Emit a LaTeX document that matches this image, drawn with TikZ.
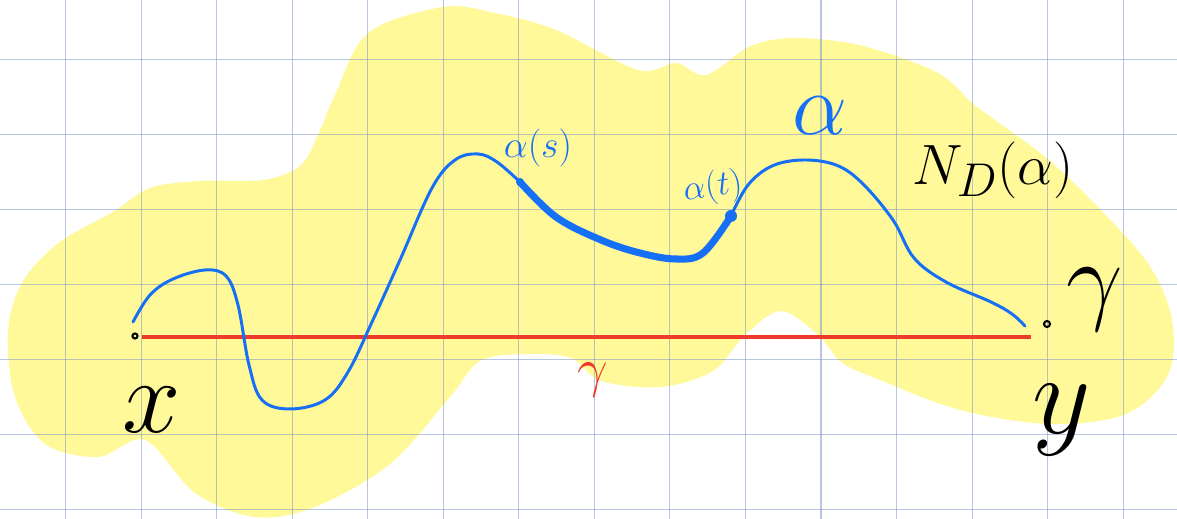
\documentclass[tikz,border=0pt]{standalone}
\usepackage{amsmath,amssymb}
\usepackage{tikz}
\usetikzlibrary{positioning,calc}
\definecolor{hlYellow}{HTML}{FFF99A}
\definecolor{penBlue}{HTML}{1570F5}
\definecolor{penRed}{HTML}{EE3A2A}
\definecolor{gridBlue}{HTML}{7F97C8}
\tikzset{
  gridline/.style={gridBlue, line width=0.6pt, opacity=0.55},
  blob/.style={fill=hlYellow},
  curve/.style={penBlue, line width=1.7pt, line cap=round, line join=round},
  thickcurve/.style={penBlue, line width=4pt, line cap=round, line join=round},
  geo/.style={penRed, line width=1.8pt},
  blue lbl/.style={text=penBlue, inner sep=1pt},
  ink lbl/.style={text=black, inner sep=1pt},
}

\begin{document}
\begin{tikzpicture}[x=0.02cm, y=-0.02cm]
    \useasboundingbox (0,0) rectangle (1177,519);
    % highlighted neighbourhood
    \fill[blob] plot[smooth cycle, tension=0.55] coordinates {
      (113,212) (150,188) (200,181) (263,180) (300,166) (318,135) (335,95)
      (368,33) (443,7) (495,13) (556,30) (638,70) (676,63) (706,75)
      (751,46) (796,38) (863,46) (938,73) (976,106) (1044,156) (1096,205)
      (1149,265) (1172,320) (1168,375) (1126,414) (1051,424) (960,410)
      (875,378) (841,362) (818,335) (781,311) (745,335) (713,371) (661,387)
      (601,381) (571,358) (526,354) (480,361) (450,397) (390,464) (315,507)
      (255,517) (195,493) (145,440) (98,457) (45,444) (15,397) (8,331)
      (23,281) (60,242)};
    % paper grid
    \foreach \i in {0,...,14}
      \draw[gridline] ({65.5+75.55*\i},0) -- ++(0,519);
    \foreach \j in {0,...,6}
      \draw[gridline] (0,{59.5+75*\j}) -- ++(1177,0);

    \coordinate (xpt) at (142,337);
    \coordinate (ypt) at (1031,337);
    \coordinate (a0) at (133,322);
    \coordinate (a1) at (1025,326);
    \coordinate (As) at (520,182);
    \coordinate (At) at (731,216);

    % geodesic
    \draw[geo] (xpt) -- (ypt);
    % the curve alpha
    \draw[curve] plot[smooth, tension=0.6] coordinates {(a0) (150,295) (173,279)
      (205,270) (226,276) (238,305) (249,365) (262,400) (290,409) (325,400)
      (348,372) (372,322) (400,260) (432,188) (455,160) (478,154) (497,162) (As)};
    \draw[thickcurve] plot[smooth, tension=0.6] coordinates {(As) (556,217)
      (601,240) (640,253) (676,259) (703,253) (At)};
    \draw[curve] plot[smooth, tension=0.6] coordinates {(At) (748,185) (772,166)
      (803,160) (836,165) (862,183) (893,220) (914,258) (946,282) (991,302)
      (1012,314) (a1)};
    \fill[penBlue] (As) circle (4);
    \fill[penBlue] (At) circle (6);
    \draw[black, line width=1.2pt] (135,336) circle (2.5);
    \draw[black, line width=1.2pt] (1047,324) circle (3);

    % labels
    \node[blue lbl, font=\LARGE, scale=1.25] (lAs) at (538,148) {$\alpha(s)$};
    \node[blue lbl, font=\LARGE, scale=1.15, rotate=8] (lAt) at (713,188) {$\alpha(t)$};
    \node[blue lbl, font=\Huge, scale=2] (lA) at (820,116) {$\alpha$};
    \node[ink lbl, font=\Huge, scale=1.3] (lN) at (993,170) {$N_D(\alpha)$};
    \node[penRed, font=\LARGE, scale=1.8] (lg) at (593,380) {$\gamma$};
    \node[ink lbl, font=\Huge, scale=2.4] (lx) at (152,410) {$x$};
    \node[ink lbl, font=\Huge, scale=2.3] (lgy) at (1095,300) {$\gamma$};
    \node[ink lbl, font=\Huge, scale=2.6] (ly) at (1062,420) {$y$};
\end{tikzpicture}
\end{document}
